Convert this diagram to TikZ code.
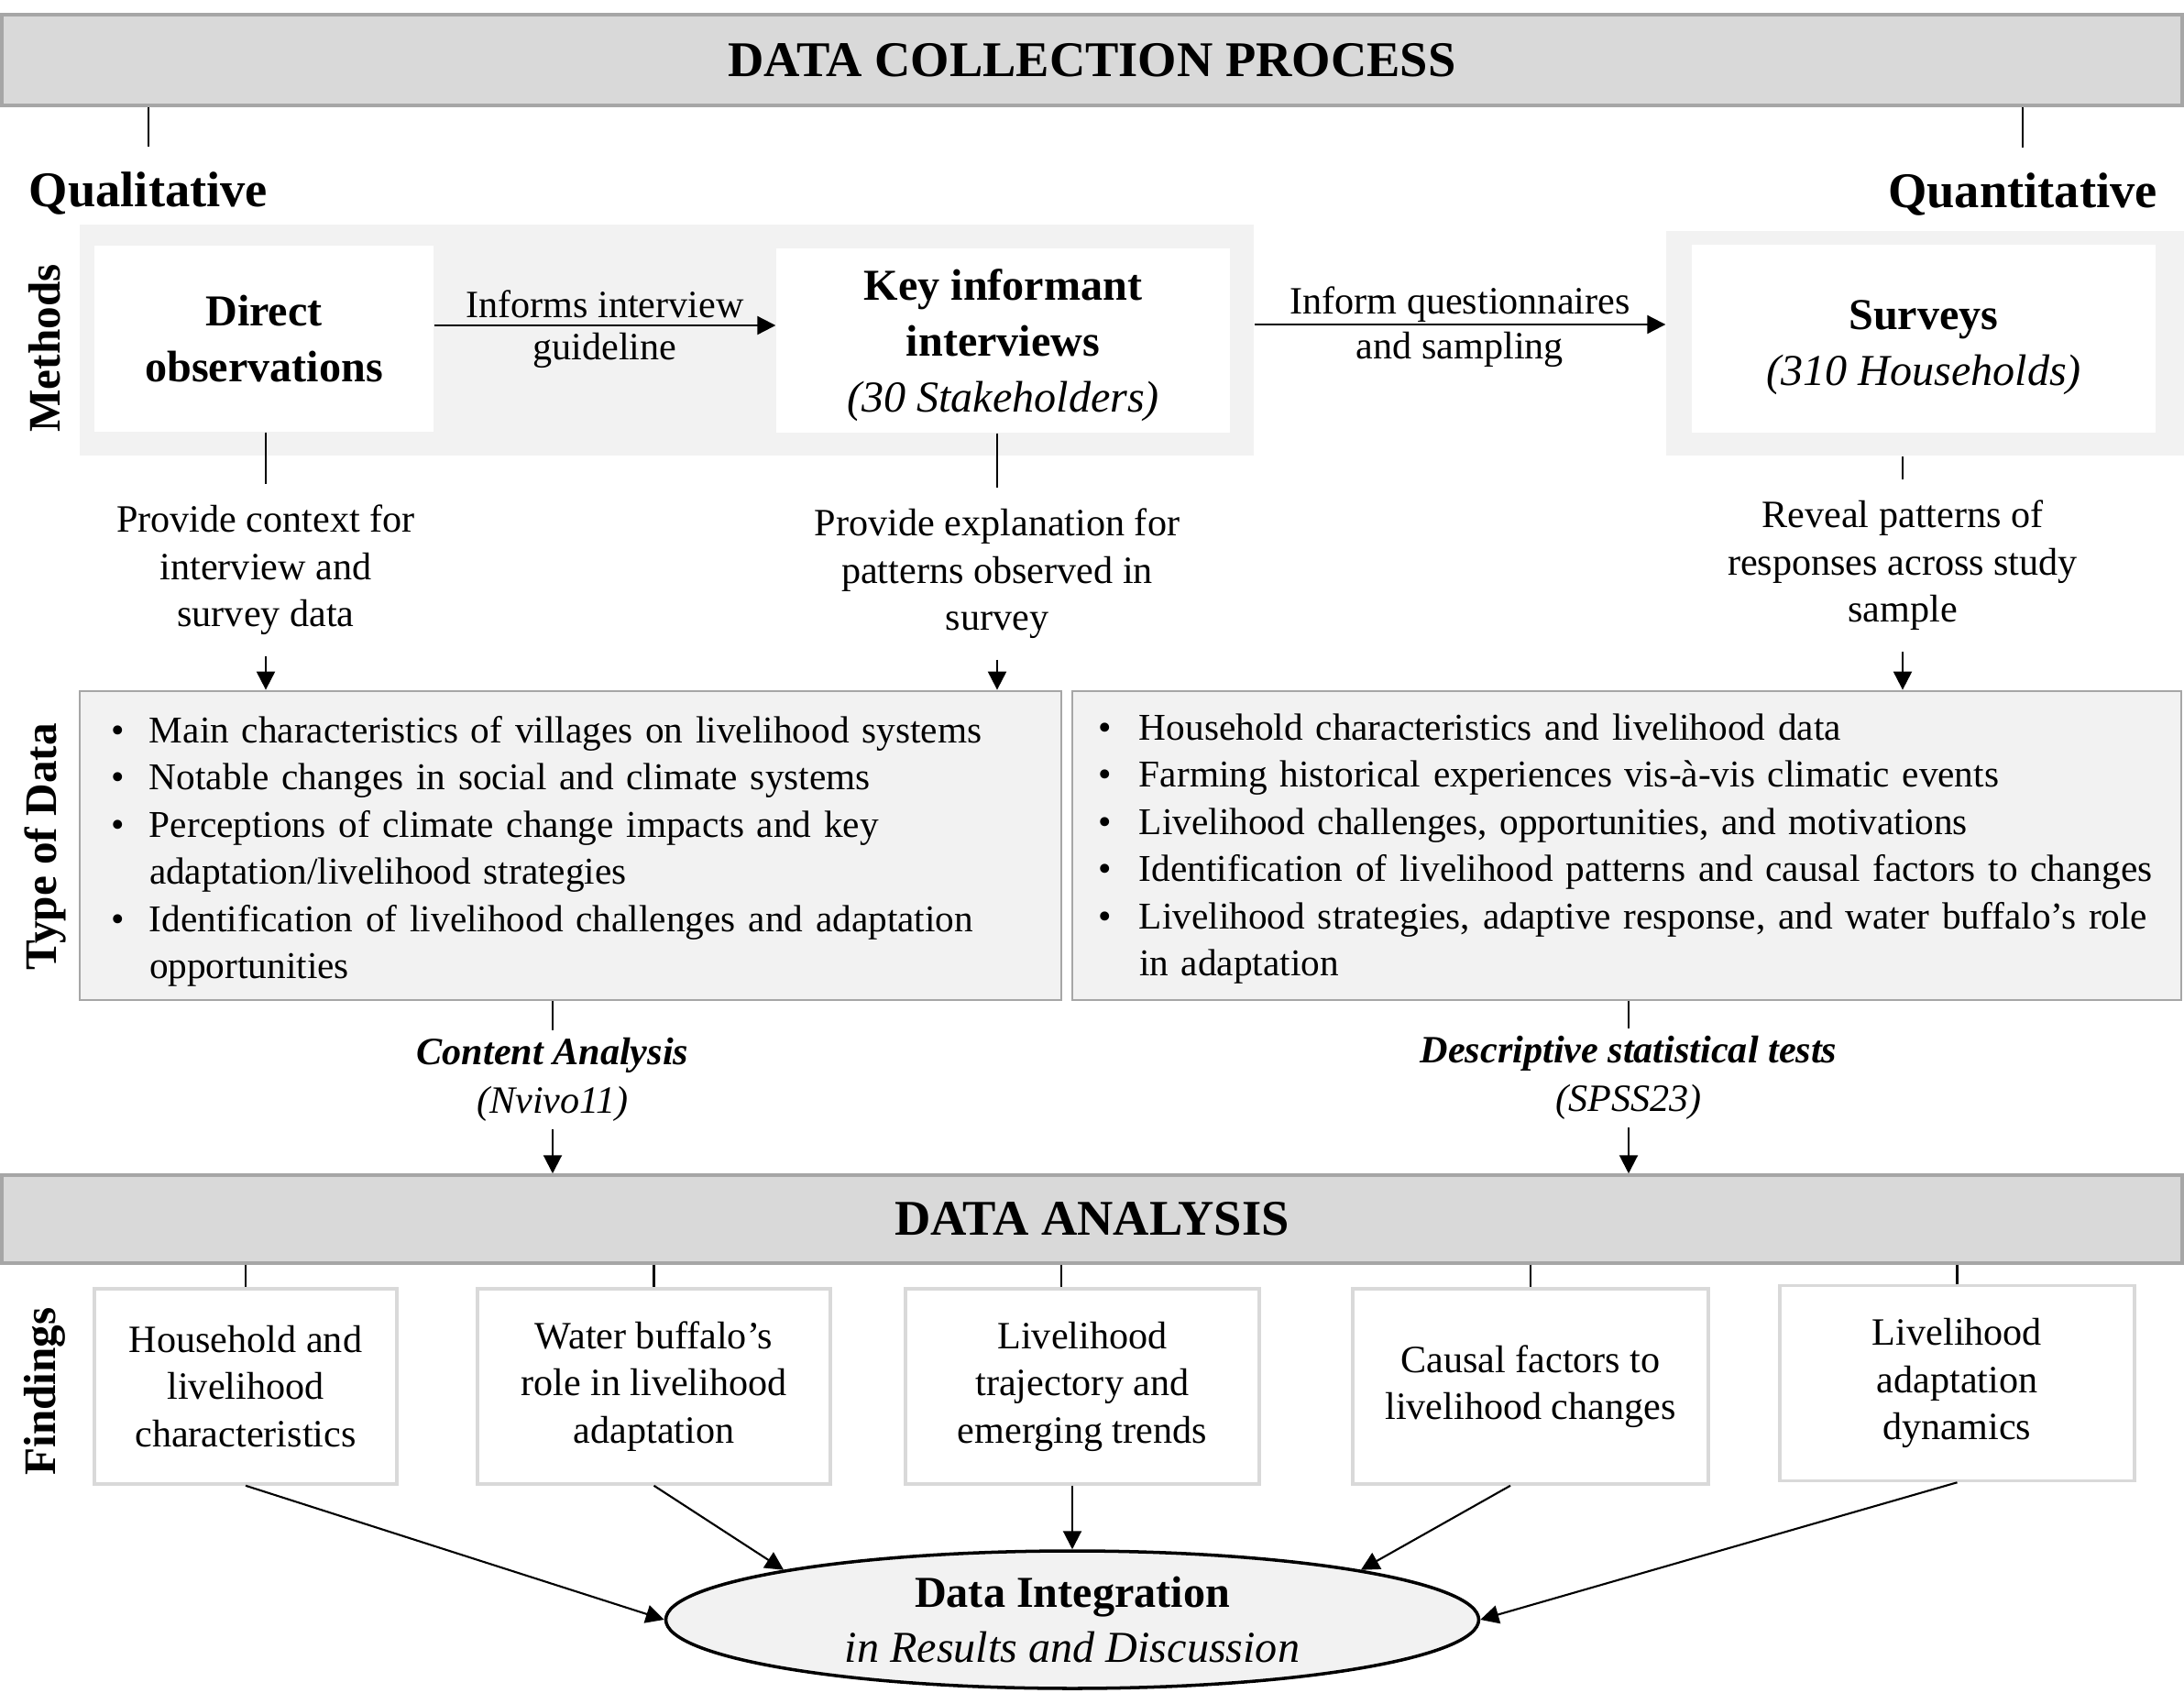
\documentclass[tikz,border=0pt]{standalone}
\usepackage{fontspec}
\setmainfont{Liberation Serif}
\usetikzlibrary{shapes.geometric,arrows.meta}

\definecolor{barfill}{HTML}{D9D9D9}
\definecolor{barline}{HTML}{A6A6A6}
\definecolor{panelfill}{HTML}{F2F2F2}
\definecolor{findline}{HTML}{D9D9D9}

\begin{document}
\begin{tikzpicture}[
  every node/.style={font=\fontsize{12}{14.65}\selectfont, inner sep=2pt},
  bar/.style={draw=barline, line width=1pt, fill=barfill, minimum width=23.79cm, font=\fontsize{15.5}{18}\selectfont\bfseries},
  side/.style={rotate=90, font=\fontsize{14}{16}\selectfont\bfseries},
  head/.style={font=\fontsize{15.5}{18}\selectfont\bfseries, inner sep=0.27cm},
  panel/.style={fill=panelfill, inner sep=0},
  method/.style={fill=white, align=center, inner sep=0, font=\fontsize{13.7}{17.3}\selectfont},
  note/.style={align=center, inner xsep=2pt, inner ysep=0.22cm},
  datatype/.style={draw=barline, line width=0.8pt, fill=panelfill, minimum height=3.37cm, align=left, font=\fontsize{11.75}{14.65}\selectfont},
  tool/.style={align=center, inner xsep=2pt, inner ysep=0.08cm, font=\fontsize{12}{15}\selectfont},
  finding/.style={draw=findline, line width=1pt, fill=white, minimum height=2.13cm, align=center, inner sep=0},
  arr/.style={-{Triangle[length=2mm,width=2mm]}, line width=0.6pt},
  link/.style={line width=0.6pt}
]
\useasboundingbox (0,0) rectangle (23.83,-18.47);

% data collection
\node[bar, minimum height=0.99cm] (dcp) at (11.915,-0.655) {DATA COLLECTION PROCESS};
\node[head] (qual) at (1.62,-2.115) {Qualitative};
\node[head] (quant) at (22.07,-2.12) {Quantitative};
\draw[link] (dcp.south -| qual) -- (qual.north);
\draw[link] (dcp.south -| quant) -- (quant.north);

% methods
\node[panel, minimum width=12.81cm, minimum height=2.52cm] (qualpanel) at (7.275,-3.71) {};
\node[panel, minimum width=5.65cm, minimum height=2.45cm] (quantpanel) at (21.005,-3.745) {};
\node[method, minimum width=3.70cm, minimum height=2.03cm] (direct) at (2.88,-3.695) {\textbf{Direct}\\\textbf{observations}};
\node[method, minimum width=4.95cm, minimum height=2.01cm] (key) at (10.945,-3.715) {\rule{0pt}{12.7pt}\textbf{Key informant}\\\textbf{interviews}\\\textit{(30 Stakeholders)}};
\node[method, minimum width=5.06cm, minimum height=2.05cm] (surveys) at (20.99,-3.695) {\rule{0pt}{14.4pt}\textbf{Surveys}\\\textit{(310 Households)}};
\node[side] (lblmeth) at (0.49,-3.80) {Methods};

\coordinate (m1) at ([yshift=1.45mm]direct.east);
\coordinate (m2) at ([yshift=1.7mm]qualpanel.east);
\draw[arr] (m1) -- node[above]{Informs interview} node[below]{guideline} (m1 -| key.west);
\draw[arr] (m2) -- node[above, yshift=-0.6mm]{Inform questionnaires} node[below]{and sampling} (m2 -| quantpanel.west);

% type of data
\node[datatype, minimum width=10.71cm, inner xsep=0.34cm, text width=10.03cm] (typeL) at (6.225,-9.225) {%
\vspace*{-0.12cm}\begin{tabular}{@{}p{0.42cm}@{}l@{}}
\textbullet & Main characteristics of villages on livelihood systems\\
\textbullet & Notable changes in social and climate systems\\
\textbullet & Perceptions of climate change impacts and key\\
 & adaptation/livelihood strategies\\
\textbullet & Identification of livelihood challenges and adaptation\\
 & opportunities
\end{tabular}};
\node[datatype, minimum width=12.10cm, inner xsep=0.28cm, text width=11.54cm] (typeR) at (17.75,-9.225) {%
\vspace*{-0.06cm}\begin{tabular}{@{}p{0.45cm}@{}l@{}}
\textbullet & Household characteristics and livelihood data\\
\textbullet & Farming historical experiences vis-à-vis climatic events\\
\textbullet & Livelihood challenges, opportunities, and motivations\\
\textbullet & Identification of livelihood patterns and causal factors to changes\\
\textbullet & Livelihood strategies, adaptive response, and water buffalo’s role\\
 & in adaptation
\end{tabular}};
\node[side] (lbltype) at (0.49,-9.24) {Type of Data};

\node[note] (ctx) at (2.90,-6.22) {Provide context for\\interview and\\survey data};
\node[note] (expl) at (10.88,-6.26) {Provide explanation for\\patterns observed in\\survey};
\node[note] (reveal) at (20.76,-6.17) {Reveal patterns of\\responses across study\\sample};
\draw[link] (ctx.north |- direct.south) -- (ctx.north);
\draw[link] (expl.north |- key.south) -- (expl.north);
\draw[link] (reveal.north |- quantpanel.south) -- (reveal.north);
\draw[arr] (ctx.south) -- (ctx.south |- typeL.north);
\draw[arr] (expl.south) -- (expl.south |- typeL.north);
\draw[arr] (reveal.south) -- (reveal.south |- typeR.north);

% data analysis
\node[bar, minimum height=0.96cm] (da) at (11.915,-13.30) {DATA ANALYSIS};
\node[tool] (content) at (6.03,-11.78) {\textbf{\textit{Content Analysis}}\\\textit{(Nvivo11)}};
\node[tool] (stats) at (17.77,-11.76) {\textbf{\textit{Descriptive statistical tests}}\\\textit{(SPSS23)}};
\draw[link] (content.north |- typeL.south) -- (content.north);
\draw[link] (stats.north |- typeR.south) -- (stats.north);
\draw[arr] (content.south) -- (content.south |- da.north);
\draw[arr] (stats.south) -- (stats.south |- da.north);

% findings
\node[finding, minimum width=3.30cm] (f1) at (2.68,-15.125) {Household and\\livelihood\\characteristics};
\node[finding, minimum width=3.85cm] (f2) at (7.135,-15.125) {Water buffalo’s\\role in livelihood\\adaptation};
\node[finding, minimum width=3.86cm] (f3) at (11.81,-15.125) {Livelihood\\trajectory and\\emerging trends};
\node[finding, minimum width=3.88cm] (f4) at (16.70,-15.125) {Causal factors to\\livelihood changes};
\node[finding, minimum width=3.87cm] (f5) at (21.355,-15.09) {Livelihood\\adaptation\\dynamics};
\node[side] (lblfind) at (0.49,-15.18) {Findings};
\draw[link] (da.south -| f1) -- (f1.north);
\draw[link] (da.south -| f2) -- (f2.north);
\draw[link] ([xshift=-2.3mm]f3.north |- da.south) -- ([xshift=-2.3mm]f3.north);
\draw[link] (da.south -| f4) -- (f4.north);
\draw[link] (da.south -| f5) -- (f5.north);

\node[ellipse, draw, line width=1pt, fill=panelfill, minimum width=8.87cm, minimum height=1.5cm, inner sep=0, align=center, font=\fontsize{13.7}{17.3}\selectfont] (integ) at (11.70,-17.67) {\textbf{Data Integration}\\\textit{in Results and Discussion}};
\draw[arr] (f1.south) -- (integ.west);
\draw[arr] (f2.south) -- (integ.north west);
\draw[arr] (f3.south -| integ.north) -- (integ.north);
\draw[arr] ([xshift=-2.2mm]f4.south) -- (integ.north east);
\draw[arr] (f5.south) -- (integ.east);

\end{tikzpicture}
\end{document}
